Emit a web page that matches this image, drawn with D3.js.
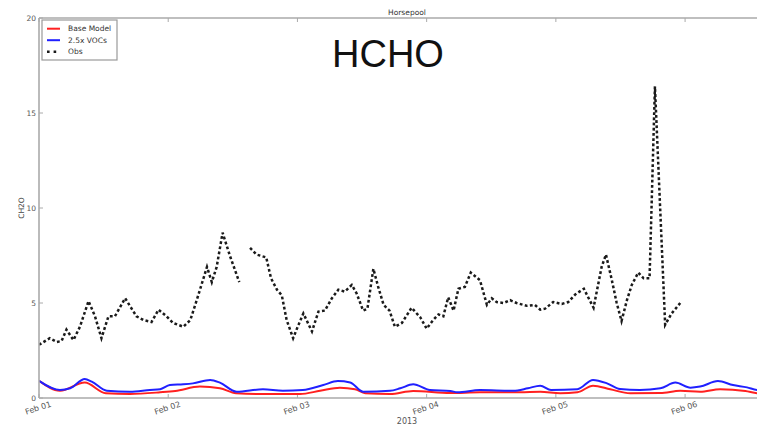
<!DOCTYPE html>
<html>
<head>
<meta charset="utf-8">
<script src="https://cdn.jsdelivr.net/npm/d3@7"></script>
<style>
  html, body { margin: 0; padding: 0; background: #fff; overflow: hidden; }
  svg { display: block; font-family: "DejaVu Sans", sans-serif; }
</style>
</head>
<body>
<svg id="chart" width="757" height="430"></svg>
<script>
// Horsepool, Feb 2013: formaldehyde (CH2O) observations vs two model runs.
// Times are hours after 2013-02-01 00:00 UTC.

const obsHours = [0, 2, 3.3, 4.2, 5.1, 6.4, 7.6, 9.2, 10.4, 11.6, 12.9, 14.1, 16, 18.1, 19.4, 20.9, 22.2, 23.7,
  24.9, 26.8, 28.1, 29.3, 31.2, 32.1, 33, 34.1, 35.5, 37.2,
  38.2,
  39.2, 40.4, 42.2, 43.1, 44.2, 45.1, 46, 47.2, 48.2, 49.1, 50.7, 51.9, 53.1, 54.4, 55.6, 56.8, 58.1, 59,
  60.2, 61, 62.1, 63, 64, 65.1, 66.1, 67.4, 69.2, 70.8, 72, 73.2, 74.2, 75.1, 76, 77, 77.9, 79.1, 80.2,
  81.9, 83.2, 84.1, 85, 86.3, 87.5, 88.7, 90.6, 92.1, 93.1, 94, 95.5, 97.1, 98.3, 99.6, 101.2, 102,
  103, 104.5, 105.3, 106.4, 107.3, 108.2, 109.2, 110.1, 111.3, 112.3, 113.4, 114.4, 116.3, 117.5, 119.1];
const obsValues = [2.8, 3.15, 2.95, 3.0, 3.6, 3.05, 3.75, 5.1, 4.3, 3.15, 4.3, 4.3, 5.25, 4.3, 4.1, 4.0, 4.65, 4.3,
  3.95, 3.75, 4.1, 5.15, 6.9, 6.1, 6.9, 8.7, 7.45, 6.1,
  null,
  7.9, 7.55, 7.4, 6.3, 5.7, 5.4, 4.1, 3.15, 3.85, 4.45, 3.5, 4.55, 4.6, 5.25, 5.7, 5.6, 5.95, 5.5,
  4.6, 4.7, 6.8, 5.85, 4.9, 4.6, 3.75, 3.95, 4.75, 4.25, 3.65, 4.1, 4.4, 4.3, 5.3, 4.6, 5.75, 5.85, 6.6,
  6.2, 4.9, 5.25, 5.05, 5.0, 5.15, 5.0, 4.85, 4.9, 4.65, 4.7, 5.05, 4.95, 5.05, 5.45, 5.75, 5.3,
  4.75, 6.9, 7.55, 6.2, 5.0, 4.05, 5.15, 5.95, 6.6, 6.3, 6.3, 16.4, 3.85, 4.45, 5.0];

const baseHours = [0, 3.9, 8.5, 12.4, 16.9, 22.5, 25.3, 29.9, 33.6, 36.6, 41, 48.5, 52.2, 55.9, 58.7, 60.6,
  65.2, 69.5, 76.4, 81.9, 89.3, 93.1, 96.8, 100, 102.9, 106.1, 109.8, 115.4, 119.1, 122.8, 126.5, 131.2, 133.4, 136.7];
const baseValues = [0.9, 0.38, 0.81, 0.25, 0.21, 0.3, 0.37, 0.6, 0.51, 0.25, 0.21, 0.21, 0.38, 0.54, 0.46, 0.25,
  0.21, 0.37, 0.26, 0.3, 0.3, 0.33, 0.25, 0.3, 0.65, 0.46, 0.25, 0.26, 0.38, 0.33, 0.46, 0.37, 0.25, 0.22];

const vocHours = [0, 3.9, 5.8, 8.5, 9.8, 12.6, 16.9, 20.6, 22.5, 24.3, 26.8, 28.6, 31.8, 33.6, 36.7, 41.6, 45.3,
  49, 52.8, 55.5, 57.8, 60.2, 65.2, 67.1, 69.5, 72.6, 76.4, 77.7, 81.9, 88.1, 90.8, 93.1, 95.1, 100, 102.9,
  105.5, 107.9, 111.6, 115.4, 118.2, 121, 122.8, 126.1, 128.9, 131.5, 133.4, 136.7];
const vocValues = [0.9, 0.42, 0.51, 1.0, 0.86, 0.38, 0.33, 0.42, 0.46, 0.68, 0.72, 0.77, 0.95, 0.81, 0.33, 0.46, 0.38,
  0.42, 0.68, 0.89, 0.82, 0.33, 0.38, 0.51, 0.72, 0.42, 0.37, 0.3, 0.42, 0.38, 0.51, 0.65, 0.42, 0.46, 0.95,
  0.77, 0.47, 0.42, 0.51, 0.81, 0.54, 0.6, 0.89, 0.68, 0.56, 0.42, 0.38];

const yTicks = [0, 5, 10, 15, 20];
const seriesNames = ["Base Model", "2.5x VOCs", "Obs"];
const seriesColors = ["#ff2020", "#2020ff", "#1a1a1a"];

const start = Date.UTC(2013, 1, 1);
const toDate = h => new Date(start + h * 3600e3);

const svg = d3.select("#chart");
const plotL = 39, plotR = 775, plotT = 18, plotB = 398;

const x = d3.scaleUtc().domain([toDate(0), toDate(136.7)]).range([plotL, plotR]);
const y = d3.scaleLinear().domain([0, 20]).range([plotB, plotT]);

const spine = "#aaa";

// clip region for plotted lines
svg.append("clipPath").attr("id", "plotclip")
  .append("rect").attr("x", plotL).attr("y", plotT).attr("width", plotR - plotL).attr("height", plotB - plotT);

// x ticks (inward, bottom and top) and rotated date labels
const dayTicks = x.ticks(d3.utcDay.every(1));
const fmt = d3.utcFormat("%b %d");
const gx = svg.append("g");
dayTicks.forEach(d => {
  const px = x(d);
  gx.append("line").attr("x1", px).attr("x2", px).attr("y1", plotB).attr("y2", plotB - 4)
    .attr("stroke", spine).attr("stroke-width", 1);
  gx.append("line").attr("x1", px).attr("x2", px).attr("y1", plotT).attr("y2", plotT + 4)
    .attr("stroke", spine).attr("stroke-width", 1);
  gx.append("text").attr("transform", `translate(${px},${410.5}) rotate(-18)`)
    .attr("text-anchor", "middle").attr("font-size", 8).attr("fill", "#555")
    .text(fmt(d));
});

// y ticks
const gy = svg.append("g");
yTicks.forEach(v => {
  gy.append("line").attr("x1", plotL).attr("x2", plotL + 4).attr("y1", y(v)).attr("y2", y(v))
    .attr("stroke", spine).attr("stroke-width", 1);
  gy.append("text").attr("x", plotL - 3).attr("y", y(v) + 2.5).attr("text-anchor", "end")
    .attr("font-size", 7.5).attr("fill", "#555").text(v);
});

// series lines
const lineGen = d3.line()
  .defined(d => d[1] !== null)
  .x(d => x(toDate(d[0])))
  .y(d => y(d[1]));

const plot = svg.append("g").attr("clip-path", "url(#plotclip)");

plot.append("path")
  .datum(baseHours.map((h, i) => [h, baseValues[i]]))
  .attr("d", lineGen.curve(d3.curveMonotoneX))
  .attr("fill", "none").attr("stroke", seriesColors[0]).attr("stroke-width", 2);

plot.append("path")
  .datum(vocHours.map((h, i) => [h, vocValues[i]]))
  .attr("d", lineGen.curve(d3.curveMonotoneX))
  .attr("fill", "none").attr("stroke", seriesColors[1]).attr("stroke-width", 2);

plot.append("path")
  .datum(obsHours.map((h, i) => [h, obsValues[i]]))
  .attr("d", lineGen.curve(d3.curveLinear))
  .attr("fill", "none").attr("stroke", seriesColors[2]).attr("stroke-width", 2.5)
  .attr("stroke-dasharray", "2.8,2.4");

// frame
[[plotL, plotT, plotR, plotT], [plotL, plotB, plotR, plotB], [plotL, plotT, plotL, plotB], [plotR, plotT, plotR, plotB]]
  .forEach(s => svg.append("line").attr("x1", s[0]).attr("y1", s[1]).attr("x2", s[2]).attr("y2", s[3])
    .attr("stroke", spine).attr("stroke-width", 1.6));

// titles and labels
svg.append("text").attr("x", (plotL + plotR) / 2).attr("y", 15).attr("text-anchor", "middle")
  .attr("font-size", 7.5).attr("fill", "#333").text("Horsepool");
svg.append("text").attr("x", (plotL + plotR) / 2).attr("y", 424).attr("text-anchor", "middle")
  .attr("font-size", 8).attr("fill", "#555").text("2013");
svg.append("text").attr("transform", `translate(24,${(plotT + plotB) / 2}) rotate(-90)`)
  .attr("text-anchor", "middle").attr("font-size", 7.5).attr("fill", "#444").text("CH2O");
svg.append("text").attr("x", 388).attr("y", 67).attr("text-anchor", "middle")
  .attr("font-family", "'Liberation Sans', Arial, sans-serif").attr("font-size", 38)
  .attr("fill", "#111").text("HCHO");

// legend
const lg = svg.append("g");
lg.append("rect").attr("x", 42).attr("y", 20).attr("width", 75).attr("height", 40)
  .attr("fill", "#fff").attr("stroke", "#999").attr("stroke-width", 1.2);
seriesNames.forEach((name, i) => {
  const ly = 28.7 + i * 11.5;
  const l = lg.append("line").attr("x1", 47).attr("x2", 60).attr("y1", ly).attr("y2", ly)
    .attr("stroke", seriesColors[i]).attr("stroke-width", i === 2 ? 2.6 : 2);
  if (i === 2) l.attr("stroke-dasharray", "2.6,4");
  lg.append("text").attr("x", 68).attr("y", ly + 2.6).attr("font-size", 7.5).attr("fill", "#333").text(name);
});
</script>
</body>
</html>
